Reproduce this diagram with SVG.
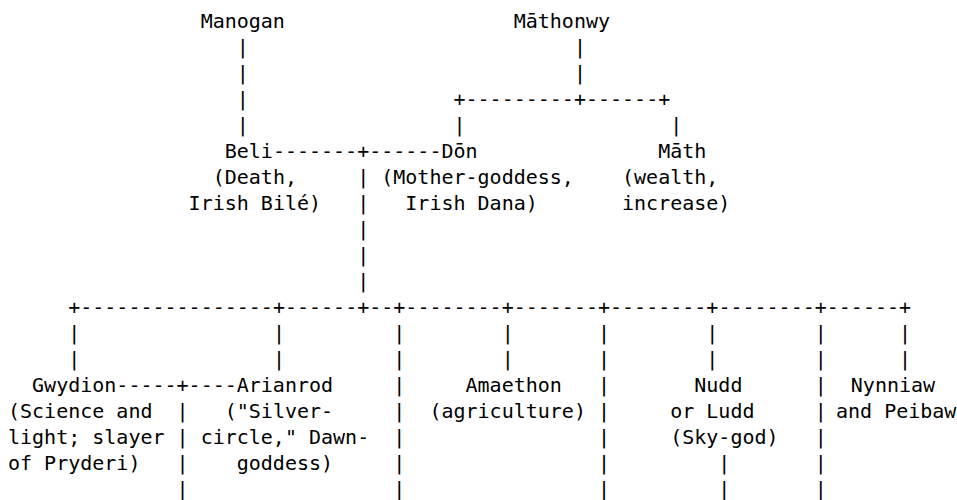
<svg xmlns="http://www.w3.org/2000/svg" width="957" height="500" viewBox="0 0 957 500">
<style>
text { font-family: "DejaVu Sans Mono", "Liberation Mono", monospace; font-size: 20px; fill: #000000; }
</style>
<rect x="0" y="0" width="957" height="500" fill="#ffffff"/>
<g id="connectors">
  <text y="54"><tspan x="236.76">|</tspan><tspan x="573.88">|</tspan></text>
  <text y="80"><tspan x="236.76">|</tspan><tspan x="573.88">|</tspan></text>
  <text y="106"><tspan x="236.76">|</tspan><tspan x="453.48">+---------+------+</tspan></text>
  <text y="132"><tspan x="236.76">|</tspan><tspan x="453.48">|</tspan><tspan x="670.2">|</tspan></text>
  <text y="158"><tspan x="272.88">-------+------</tspan></text>
  <text y="184"><tspan x="357.16">|</tspan></text>
  <text y="210"><tspan x="357.16">|</tspan></text>
  <text y="236"><tspan x="357.16">|</tspan></text>
  <text y="262"><tspan x="357.16">|</tspan></text>
  <text y="288"><tspan x="357.16">|</tspan></text>
  <text y="314"><tspan x="68.2">+----------------+------+--+--------+-------+--------+--------+------+</tspan></text>
  <text y="340"><tspan x="68.2">|</tspan><tspan x="272.88">|</tspan><tspan x="393.28">|</tspan><tspan x="501.64">|</tspan><tspan x="597.96">|</tspan><tspan x="706.32">|</tspan><tspan x="814.68">|</tspan><tspan x="898.96">|</tspan></text>
  <text y="366"><tspan x="68.2">|</tspan><tspan x="272.88">|</tspan><tspan x="393.28">|</tspan><tspan x="501.64">|</tspan><tspan x="597.96">|</tspan><tspan x="706.32">|</tspan><tspan x="814.68">|</tspan><tspan x="898.96">|</tspan></text>
  <text y="392"><tspan x="116.36">-----+----</tspan><tspan x="393.28">|</tspan><tspan x="597.96">|</tspan><tspan x="814.68">|</tspan></text>
  <text y="418"><tspan x="176.56">|</tspan><tspan x="393.28">|</tspan><tspan x="597.96">|</tspan><tspan x="814.68">|</tspan></text>
  <text y="444"><tspan x="176.56">|</tspan><tspan x="393.28">|</tspan><tspan x="597.96">|</tspan><tspan x="814.68">|</tspan></text>
  <text y="470"><tspan x="176.56">|</tspan><tspan x="393.28">|</tspan><tspan x="597.96">|</tspan><tspan x="718.36">|</tspan><tspan x="814.68">|</tspan></text>
  <text y="496"><tspan x="176.56">|</tspan><tspan x="393.28">|</tspan><tspan x="597.96">|</tspan><tspan x="718.36">|</tspan><tspan x="814.68">|</tspan></text>
</g>
<g id="manogan">
  <text x="200.64" y="28">Manogan</text>
</g>
<g id="mathonwy">
  <text x="513.68" y="28">Māthonwy</text>
</g>
<g id="beli">
  <text x="224.72" y="158">Beli</text>
  <text x="212.68" y="184">(Death,</text>
  <text x="188.6" y="210">Irish Bilé)</text>
</g>
<g id="don">
  <text x="441.44" y="158">Dōn</text>
  <text x="381.24" y="184">(Mother-goddess,</text>
  <text x="405.32" y="210">Irish Dana)</text>
</g>
<g id="math">
  <text x="658.16" y="158">Māth</text>
  <text x="622.04" y="184">(wealth,</text>
  <text x="622.04" y="210">increase)</text>
</g>
<g id="gwydion">
  <text x="32.08" y="392">Gwydion</text>
  <text x="8" y="418">(Science and</text>
  <text x="8" y="444">light; slayer</text>
  <text x="8" y="470">of Pryderi)</text>
</g>
<g id="arianrod">
  <text x="236.76" y="392">Arianrod</text>
  <text x="224.72" y="418">("Silver-</text>
  <text x="200.64" y="444">circle," Dawn-</text>
  <text x="236.76" y="470">goddess)</text>
</g>
<g id="amaethon">
  <text x="465.52" y="392">Amaethon</text>
  <text x="429.4" y="418">(agriculture)</text>
</g>
<g id="nudd">
  <text x="694.28" y="392">Nudd</text>
  <text x="670.2" y="418">or Ludd</text>
  <text x="670.2" y="444">(Sky-god)</text>
</g>
<g id="nynniaw">
  <text x="850.8" y="392">Nynniaw</text>
  <text x="836" y="418">and Peibaw</text>
</g>
</svg>
